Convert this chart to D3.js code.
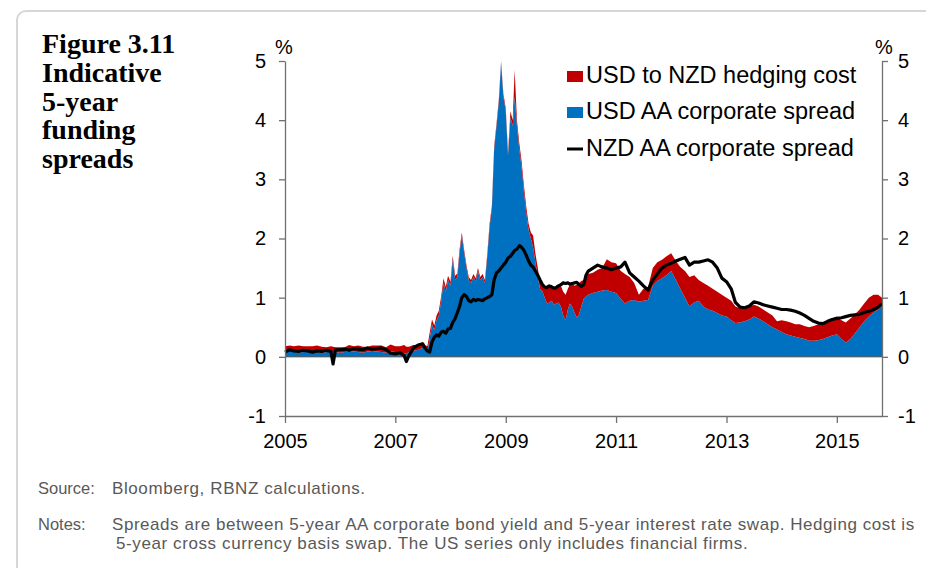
<!DOCTYPE html>
<html><head><meta charset="utf-8">
<script src="https://cdn.jsdelivr.net/npm/d3@7"></script>
<style>body{margin:0;background:#fff;} svg{display:block;}</style>
</head><body>
<svg id="chart" width="926" height="568"></svg>
<script>
// ---- data ----
const dates = [
"2005-01-01","2005-02-01","2005-03-01","2005-04-01","2005-05-01","2005-06-01","2005-07-01","2005-08-01","2005-09-01","2005-10-01","2005-11-01","2005-11-15","2005-12-01",
"2006-01-01","2006-02-01","2006-03-01","2006-04-01","2006-05-01","2006-06-01","2006-07-01","2006-08-01","2006-09-01","2006-10-01","2006-11-01","2006-12-01",
"2007-01-01","2007-02-01","2007-03-01","2007-03-15","2007-04-01","2007-05-01","2007-06-01",
"2007-07-01","2007-07-16","2007-08-01","2007-08-16","2007-09-01","2007-09-16","2007-10-01","2007-10-16","2007-11-01","2007-11-16","2007-12-01","2007-12-16",
"2008-01-01","2008-01-16","2008-02-01","2008-02-16","2008-03-01","2008-03-16","2008-04-01","2008-04-16","2008-05-01","2008-05-16","2008-06-01","2008-06-16",
"2008-07-01","2008-07-16","2008-08-01","2008-08-16","2008-09-01","2008-09-16","2008-10-01","2008-10-16","2008-11-01","2008-11-16","2008-12-01","2008-12-16",
"2009-01-01","2009-01-16","2009-02-01","2009-02-16","2009-03-01","2009-03-16","2009-04-01","2009-04-16","2009-05-01","2009-05-16","2009-06-01","2009-06-16",
"2009-07-01","2009-07-16","2009-08-01","2009-08-16","2009-09-01","2009-09-16","2009-10-01","2009-10-16","2009-11-01","2009-11-16","2009-12-01","2009-12-16",
"2010-01-01","2010-01-16","2010-02-01","2010-02-16","2010-03-01","2010-03-16","2010-04-01","2010-04-16","2010-05-01","2010-05-16","2010-06-01","2010-06-16",
"2010-07-01","2010-08-01","2010-09-01","2010-10-01","2010-11-01","2010-12-01",
"2011-01-01","2011-02-01","2011-03-01","2011-04-01","2011-05-01","2011-06-01","2011-07-01","2011-08-01","2011-09-01","2011-10-01","2011-11-01","2011-12-01",
"2012-01-01","2012-02-01","2012-03-01","2012-04-01","2012-05-01","2012-06-01","2012-07-01","2012-08-01","2012-09-01","2012-10-01","2012-11-01","2012-12-01",
"2013-01-01","2013-02-01","2013-03-01","2013-04-01","2013-05-01","2013-06-01","2013-07-01","2013-08-01","2013-09-01","2013-10-01","2013-11-01","2013-12-01",
"2014-01-01","2014-02-01","2014-03-01","2014-04-01","2014-05-01","2014-06-01","2014-07-01","2014-08-01","2014-09-01","2014-10-01","2014-11-01","2014-12-01",
"2015-01-01","2015-02-01","2015-03-01","2015-04-01","2015-05-01","2015-06-01","2015-07-01","2015-08-01","2015-09-01","2015-10-01","2015-10-27"
];
// USD AA corporate spread (blue)
const usdSpread = [
0.10,0.08,0.09,0.07,0.08,0.10,0.09,0.08,0.07,0.08,0.09,0.08,0.08,
0.07,0.08,0.10,0.09,0.08,0.07,0.09,0.10,0.09,0.08,0.07,0.09,
0.08,0.07,0.06,0.05,0.08,0.10,0.12,
0.15,0.12,0.10,0.30,0.55,0.45,0.62,0.70,0.95,1.25,1.10,1.30,
1.20,1.65,1.30,1.35,1.75,2.05,1.75,1.50,1.30,1.25,1.35,1.28,
1.45,1.30,1.35,1.25,1.70,2.20,2.50,3.50,3.90,4.30,4.98,4.40,
4.15,3.40,4.05,3.90,4.40,3.90,3.50,3.20,2.80,2.45,2.15,2.00,
1.85,1.60,1.35,1.15,1.10,1.00,0.90,0.92,0.95,0.88,0.90,0.92,
0.85,0.70,0.62,0.80,0.90,0.85,0.75,0.66,0.72,0.85,0.98,1.02,
1.05,1.08,1.10,1.12,1.13,1.10,
1.08,0.98,0.90,0.95,0.96,0.93,0.95,0.96,1.20,1.28,1.33,1.38,
1.45,1.30,1.15,1.00,0.85,0.92,0.95,0.85,0.80,0.78,0.74,0.70,
0.68,0.62,0.57,0.58,0.60,0.63,0.68,0.65,0.60,0.55,0.50,0.46,
0.42,0.38,0.36,0.34,0.32,0.30,0.27,0.27,0.28,0.30,0.33,0.36,
0.38,0.30,0.24,0.30,0.40,0.50,0.60,0.68,0.75,0.80,0.88
];
// USD to NZD hedging cost (red, stacked on blue)
const hedgingCost = [
0.08,0.11,0.09,0.12,0.10,0.08,0.09,0.11,0.10,0.08,0.09,0.09,0.08,
0.09,0.08,0.10,0.09,0.11,0.10,0.08,0.09,0.10,0.11,0.09,0.12,
0.10,0.11,0.14,0.12,0.09,0.10,0.08,
0.10,0.08,0.08,0.10,0.08,0.08,0.08,0.08,0.08,0.08,0.08,0.07,
0.07,0.06,0.07,0.06,0.06,0.05,0.05,0.05,0.05,0.05,0.05,0.05,
0.05,0.05,0.05,0.05,0.05,0.05,0.05,0.05,0.05,0.05,0.02,0.05,
0.05,0.05,0.10,0.10,0.45,0.10,0.10,0.10,0.10,0.10,0.10,0.10,
0.20,0.15,0.15,0.10,0.10,0.20,0.28,0.28,0.27,0.27,0.30,0.30,
0.35,0.40,0.43,0.35,0.32,0.40,0.45,0.56,0.53,0.43,0.32,0.33,
0.35,0.34,0.37,0.38,0.52,0.50,
0.50,0.47,0.50,0.40,0.29,0.12,0.20,0.22,0.30,0.32,0.31,0.32,
0.30,0.32,0.37,0.45,0.50,0.46,0.35,0.40,0.40,0.37,0.36,0.35,
0.32,0.33,0.28,0.24,0.23,0.22,0.20,0.20,0.20,0.20,0.20,0.14,
0.20,0.22,0.22,0.21,0.23,0.22,0.23,0.25,0.27,0.25,0.27,0.29,
0.30,0.32,0.34,0.35,0.32,0.30,0.30,0.32,0.30,0.25,0.12
];
// NZD AA corporate spread (black line)
const nzdSpread = [
0.08,0.12,0.10,0.09,0.11,0.10,0.08,0.10,0.09,0.11,0.09,-0.12,0.12,
0.12,0.13,0.11,0.14,0.13,0.12,0.15,0.13,0.14,0.15,0.12,0.06,
0.05,0.07,0.02,-0.08,0.02,0.15,0.20,
0.22,0.15,0.10,0.08,0.25,0.33,0.37,0.35,0.42,0.43,0.40,0.47,
0.48,0.58,0.65,0.75,0.85,1.00,1.05,1.02,0.95,0.93,0.97,0.95,
0.97,0.96,0.95,0.98,1.00,1.02,1.05,1.30,1.42,1.45,1.50,1.55,
1.60,1.67,1.70,1.75,1.80,1.82,1.88,1.85,1.80,1.72,1.62,1.55,
1.52,1.45,1.38,1.30,1.22,1.18,1.17,1.20,1.18,1.16,1.17,1.20,
1.22,1.25,1.24,1.25,1.23,1.24,1.25,1.26,1.22,1.19,1.22,1.38,
1.45,1.50,1.55,1.52,1.50,1.47,
1.50,1.52,1.60,1.42,1.35,1.28,1.20,1.13,1.30,1.40,1.50,1.55,
1.58,1.62,1.65,1.68,1.55,1.60,1.60,1.62,1.64,1.60,1.50,1.33,
1.27,1.15,0.92,0.84,0.83,0.86,0.93,0.91,0.88,0.86,0.84,0.82,
0.80,0.80,0.79,0.77,0.74,0.70,0.65,0.60,0.57,0.56,0.60,0.63,
0.65,0.66,0.68,0.70,0.71,0.72,0.75,0.77,0.80,0.84,0.90
];
const yTicks = [-1, 0, 1, 2, 3, 4, 5];
const xTickLabels = ["2005", "2007", "2009", "2011", "2013", "2015"];
const seriesNames = ["USD to NZD hedging cost", "USD AA corporate spread", "NZD AA corporate spread"];
const titleLines = ["Figure 3.11", "Indicative", "5-year", "funding", "spreads"];

// ---- drawing ----
const svg = d3.select("#chart");
const FONT = "'Liberation Sans', Arial, sans-serif";
const BLUE = "#0070C0", RED = "#C00000", AXIS = "#707070";

svg.append("rect").attr("x", 17).attr("y", 11).attr("width", 980).attr("height", 620)
  .attr("rx", 9).attr("fill", "none").attr("stroke", "#d6d6d6").attr("stroke-width", 2);

// title
const title = svg.append("text").attr("font-family", "'Liberation Serif', 'Times New Roman', serif")
  .attr("font-weight", "bold").attr("font-size", 28).attr("fill", "#000");
titleLines.forEach((t, i) => title.append("tspan").attr("x", 42).attr("y", 53 + i * 28.8).text(t));

const parse = d3.timeParse("%Y-%m-%d");
const data = dates.map((d, i) => ({ date: parse(d), usd: usdSpread[i], hedge: hedgingCost[i], nzd: nzdSpread[i] }));

const x = d3.scaleTime().domain([parse("2005-01-01"), parse("2015-10-27")]).range([285, 882]);
const y = d3.scaleLinear().domain([-1, 5]).range([416, 61]);

const stacked = d3.stack().keys(["usd", "hedge"])(data);
const area = d3.area().x(d => x(d.data.date)).y0(d => y(d[0])).y1(d => y(d[1]));
svg.append("g").selectAll("path").data(stacked).join("path")
  .attr("d", area).attr("fill", (d, i) => i === 0 ? BLUE : RED);

// zero line
svg.append("line").attr("x1", x.range()[0]).attr("x2", x.range()[1]).attr("y1", y(0)).attr("y2", y(0))
  .attr("stroke", "#4a4a4a").attr("stroke-width", 1);

// NZD line
svg.append("path").datum(data)
  .attr("d", d3.line().x(d => x(d.date)).y(d => y(d.nzd)))
  .attr("fill", "none").attr("stroke", "#000").attr("stroke-width", 3.2).attr("stroke-linejoin", "round");

function styleAxis(g) {
  g.selectAll("path,line").attr("stroke", AXIS).attr("stroke-width", 1.3);
  g.selectAll("text").attr("font-family", FONT).attr("font-size", 20).attr("fill", "#000");
}
const fmt = d => String(d);
svg.append("g").attr("transform", `translate(${x.range()[0]},0)`)
  .call(d3.axisLeft(y).tickValues(yTicks).tickSize(6).tickSizeOuter(0).tickPadding(13).tickFormat(fmt))
  .call(styleAxis);
svg.append("g").attr("transform", `translate(${x.range()[1]},0)`)
  .call(d3.axisRight(y).tickValues(yTicks).tickSize(6).tickSizeOuter(0).tickPadding(10).tickFormat(fmt))
  .call(styleAxis);
svg.append("g").attr("transform", `translate(0,${y(-1)})`)
  .call(d3.axisBottom(x).tickValues(xTickLabels.map(s => parse(s + "-01-01"))).tickSize(7).tickSizeOuter(0)
    .tickPadding(11).tickFormat(d3.timeFormat("%Y")))
  .call(styleAxis);

// % labels
[[284, "%"], [884, "%"]].forEach(([px, t]) =>
  svg.append("text").attr("x", px).attr("y", 54).attr("text-anchor", "middle")
    .attr("font-family", FONT).attr("font-size", 20).attr("fill", "#000").text(t));

// legend
const lg = svg.append("g").attr("font-family", FONT).attr("font-size", 23.5).attr("fill", "#000");
const rows = [83, 119, 156];
lg.append("rect").attr("x", 567).attr("y", rows[0] - 12).attr("width", 16).attr("height", 11).attr("fill", RED);
lg.append("rect").attr("x", 567).attr("y", rows[1] - 12).attr("width", 16).attr("height", 11).attr("fill", BLUE);
lg.append("line").attr("x1", 567).attr("x2", 583).attr("y1", rows[2] - 7).attr("y2", rows[2] - 7)
  .attr("stroke", "#000").attr("stroke-width", 3);
seriesNames.forEach((s, i) => lg.append("text").attr("x", 586).attr("y", rows[i]).text(s));

// source & notes
const nt = svg.append("g").attr("font-family", FONT).attr("fill", "#595959");
nt.append("text").attr("x", 38).attr("y", 494).attr("font-size", 16.5).text("Source:");
nt.append("text").attr("x", 112).attr("y", 494).attr("font-size", 17).attr("letter-spacing", 0.6)
  .text("Bloomberg, RBNZ calculations.");
nt.append("text").attr("x", 38).attr("y", 530).attr("font-size", 16.5).text("Notes:");
nt.append("text").attr("x", 112).attr("y", 530).attr("font-size", 17).attr("letter-spacing", 0.55)
  .text("Spreads are between 5-year AA corporate bond yield and 5-year interest rate swap. Hedging cost is");
nt.append("text").attr("x", 116).attr("y", 549).attr("font-size", 17).attr("letter-spacing", 0.6)
  .text("5-year cross currency basis swap. The US series only includes financial firms.");
</script>
</body></html>
